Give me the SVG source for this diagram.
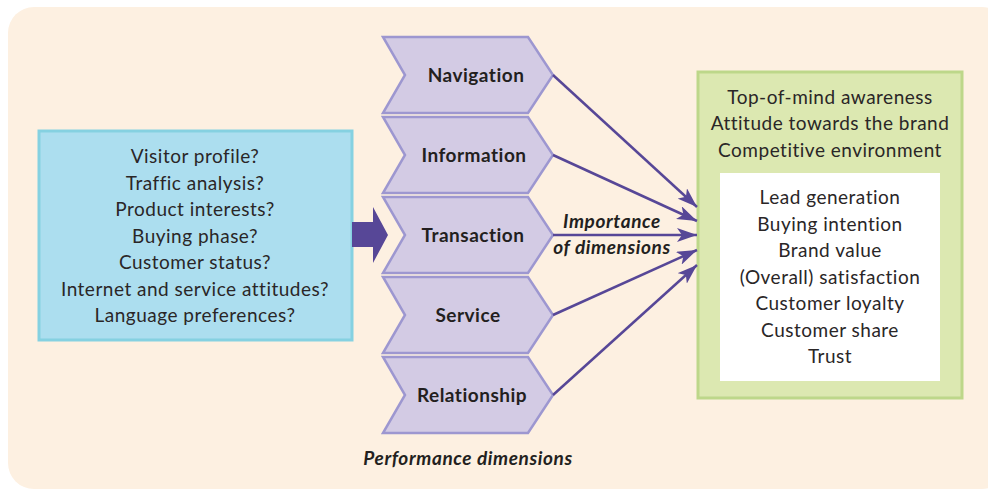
<svg xmlns="http://www.w3.org/2000/svg" width="988" height="490" viewBox="0 0 988 490">
<style>
.t{font-family:Lato,"Open Sans","Liberation Sans",sans-serif;font-size:19px;letter-spacing:0.5px;fill:#2a2627;text-anchor:middle}
.b{font-weight:bold;fill:#231f20}
.bi{font-weight:bold;font-style:italic;fill:#231f20;letter-spacing:0.6px}
.chev{fill:#d3cbe4;stroke:#9d97d0;stroke-width:2.5;stroke-linejoin:miter}
.con{stroke:#574797;stroke-width:2.5;fill:none}
</style>
<defs>
<marker id="ah" viewBox="0 0 20 14" refX="20" refY="7" markerWidth="20" markerHeight="14" markerUnits="userSpaceOnUse" orient="auto">
<path d="M0,0 L20,7 L0,14 L5,7 Z" fill="#574797"/>
</marker>
<polygon id="chv" points="0,0 145,0 170,38 145,76 0,76 22,38"/>
</defs>
<rect x="8" y="7" width="1000" height="482" rx="26" fill="#fdf0e1"/>

<g id="questions">
<rect x="39" y="131" width="313" height="209" fill="#acdeef" stroke="#85d1e1" stroke-width="3"/>
<text class="t" x="195" y="163">Visitor profile?</text>
<text class="t" x="195" y="189.5">Traffic analysis?</text>
<text class="t" x="195" y="216">Product interests?</text>
<text class="t" x="195" y="242.5">Buying phase?</text>
<text class="t" x="195" y="269">Customer status?</text>
<text class="t" x="195" y="295.5">Internet and service attitudes?</text>
<text class="t" x="195" y="322">Language preferences?</text>
</g>

<g id="input-arrow">
<path d="M352,222 H373 V207 L388,235 L373,263 V247 H352 Z" fill="#574797"/>
</g>

<g id="navigation">
<use href="#chv" x="383" y="37" class="chev"/>
<text class="t b" x="476" y="82">Navigation</text>
</g>
<g id="information">
<use href="#chv" x="383" y="117" class="chev"/>
<text class="t b" x="474" y="162">Information</text>
</g>
<g id="transaction">
<use href="#chv" x="383" y="197" class="chev"/>
<text class="t b" x="473" y="242">Transaction</text>
</g>
<g id="service">
<use href="#chv" x="383" y="277" class="chev"/>
<text class="t b" x="468" y="322">Service</text>
</g>
<g id="relationship">
<use href="#chv" x="383" y="357" class="chev"/>
<text class="t b" x="472" y="402">Relationship</text>
</g>

<g id="outcomes">
<rect x="698" y="72" width="264" height="326" fill="#dce8b1" stroke="#bdd78a" stroke-width="3"/>
<text class="t" x="830" y="103.5">Top-of-mind awareness</text>
<text class="t" x="830" y="130">Attitude towards the brand</text>
<text class="t" x="830" y="156.5">Competitive environment</text>
<rect x="720" y="173" width="220" height="208" fill="#ffffff"/>
<text class="t" x="830" y="204">Lead generation</text>
<text class="t" x="830" y="230.5">Buying intention</text>
<text class="t" x="830" y="257">Brand value</text>
<text class="t" x="830" y="283.5">(Overall) satisfaction</text>
<text class="t" x="830" y="310">Customer loyalty</text>
<text class="t" x="830" y="336.5">Customer share</text>
<text class="t" x="830" y="363">Trust</text>
</g>

<g id="connectors">
<line class="con" x1="553" y1="75" x2="697" y2="207" marker-end="url(#ah)"/>
<line class="con" x1="553" y1="155" x2="697" y2="221" marker-end="url(#ah)"/>
<line class="con" x1="553" y1="235" x2="697" y2="235" marker-end="url(#ah)"/>
<line class="con" x1="553" y1="315" x2="697" y2="250" marker-end="url(#ah)"/>
<line class="con" x1="553" y1="395" x2="697" y2="265" marker-end="url(#ah)"/>
</g>

<g id="labels">
<text class="t bi" x="612" y="228">Importance</text>
<text class="t bi" x="612" y="254">of dimensions</text>
<text class="t bi" x="468" y="465">Performance dimensions</text>
</g>
</svg>
